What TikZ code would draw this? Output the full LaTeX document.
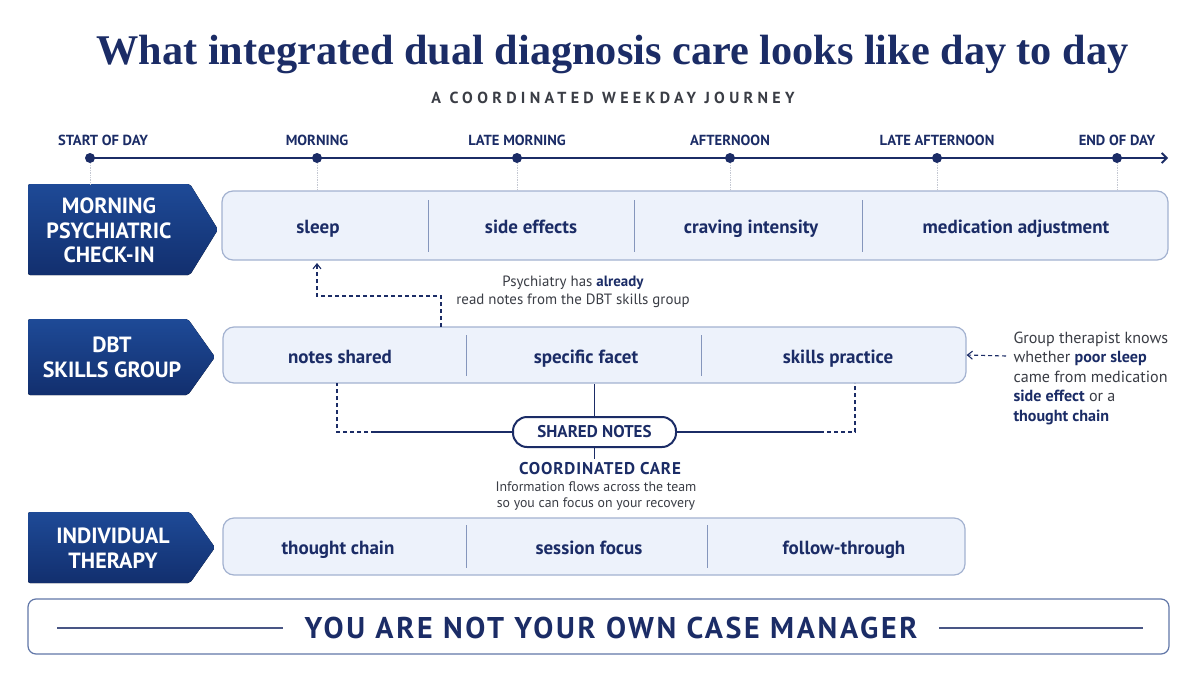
\documentclass[tikz,border=0pt]{standalone}
\usepackage{fontspec}
\setmainfont{PT Sans}
\newfontfamily\titlefont{Liberation Serif}
\usetikzlibrary{arrows.meta,calc}
\definecolor{navy}{HTML}{1B2C66}
\definecolor{bannerA}{HTML}{1E4A97}
\definecolor{bannerB}{HTML}{122F6E}
\definecolor{boxfill}{HTML}{EDF2FB}
\definecolor{boxline}{HTML}{A3B2D0}
\definecolor{divline}{HTML}{8596BC}
\definecolor{graytext}{HTML}{3A3D45}
\definecolor{dropline}{HTML}{C4C8D2}
\definecolor{bottomline}{HTML}{6177A8}
\newcommand\hl[1]{{\bfseries\color{navy}#1}}
\tikzset{
  bannershape/.style={top color=bannerA, bottom color=bannerB, draw=none, rounded corners=2},
  bannertext/.style={text=white, align=center, font=\bfseries\fontsize{22}{24.5}\selectfont},
  rowbox/.style={draw=boxline, fill=boxfill, line width=1.2, rounded corners=11, inner sep=0},
  boxlabel/.style={text=navy, text height=13, text depth=4, yshift=-2.5, font=\bfseries\fontsize{19}{22}\selectfont},
  divider/.style={draw=divline, line width=0.9},
  tlabel/.style={text=navy, text height=10, text depth=0, font=\bfseries\fontsize{14.6}{17}\selectfont},
  tdot/.style={circle, fill=navy, inner sep=0, minimum size=10},
  drop/.style={draw=dropline, line width=0.7, densely dotted},
  dasharrow/.style={draw=navy, line width=1.1, dash pattern=on 4pt off 3pt, -{Straight Barb[length=5pt,width=8pt]}},
  dashline/.style={draw=navy, line width=1.1, dash pattern=on 4pt off 3pt},
  solidline/.style={draw=navy, line width=1.5},
  note/.style={text=graytext, align=center, font=\fontsize{14.9}{18.5}\selectfont},
}
\begin{document}
\begin{tikzpicture}[x=1pt,y=-1pt]
\useasboundingbox[fill=white] (0,0) rectangle (1200,675);

% Title
\node[text=navy, font=\titlefont\bfseries\fontsize{42.3}{48}\selectfont] (title) at (612.5,54) {What integrated dual diagnosis care looks like day to day};
\node[text=graytext, font=\bfseries\fontsize{16}{19}\selectfont\addfontfeatures{LetterSpace=27}] (subtitle) at (613,98) {A COORDINATED WEEKDAY JOURNEY};

% Timeline
\node[tdot] (d0) at (90,158) {};
\node[tdot] (d1) at (317,158) {};
\node[tdot] (d2) at (517,158) {};
\node[tdot] (d3) at (730,158) {};
\node[tdot] (d4) at (937,158) {};
\node[tdot] (d5) at (1117,158) {};
\coordinate (tend) at (1168,158);
\draw[draw=navy, line width=1.8, -{Straight Barb[length=5pt,width=10pt]}] (d0.center) -- (tend);
\node[tlabel] (l0) at (103,140) {START OF DAY};
\node[tlabel] (l1) at (317,140) {MORNING};
\node[tlabel] (l2) at (517,140) {LATE MORNING};
\node[tlabel] (l3) at (730,140) {AFTERNOON};
\node[tlabel] (l4) at (937,140) {LATE AFTERNOON};
\node[tlabel] (l5) at (1117,140) {END OF DAY};

% Row 1
\fill[bannershape] (28,184) -- (190,184) -- (218,229.5) -- (190,275) -- (28,275) -- cycle;
\node[bannertext] (b1) at (109,230.5) {MORNING\\PSYCHIATRIC\\CHECK-IN};
\node[rowbox, minimum width=946, minimum height=69] (r1) at (695,225.5) {};
\draw[divider] (428,200) -- (428,252);
\draw[divider] (634,200) -- (634,252);
\draw[divider] (862,200) -- (862,252);
\node[boxlabel] (r1a) at (318,226) {sleep};
\node[boxlabel] (r1b) at (531,226) {side effects};
\node[boxlabel] (r1c) at (751,226) {craving intensity};
\node[boxlabel] (r1d) at (1016,226) {medication adjustment};

% Drops
\draw[drop] (d0.south) -- (90,184);
\draw[drop] (d1.south) -- (d1.south |- r1.north);
\draw[drop] (d2.south) -- (d2.south |- r1.north);
\draw[drop] (d3.south) -- (d3.south |- r1.north);
\draw[drop] (d4.south) -- (d4.south |- r1.north);
\draw[drop] (d5.south) -- (d5.south |- r1.north);

% Row 2
\fill[bannershape] (28,319) -- (188,319) -- (215,357) -- (188,395) -- (28,395) -- cycle;
\node[bannertext] (b2) at (112,357.5) {DBT\\SKILLS GROUP};
\node[rowbox, minimum width=743, minimum height=56] (r2) at (594.5,355) {};
\draw[divider] (466,335) -- (466,376);
\draw[divider] (701,335) -- (701,376);
\node[boxlabel] (r2a) at (340,356) {notes shared};
\node[boxlabel] (r2b) at (586,356) {specific facet};
\node[boxlabel] (r2c) at (838,356) {skills practice};

% Psychiatry note & arrow
\coordinate (pa0) at (441,327);
\coordinate (pa1) at (441,296);
\coordinate (pa2) at (317,296);
\coordinate (pa3) at (317,263);
\draw[dasharrow] (pa0) -- (pa1) -- (pa2) -- (pa3);
\node[note] (psy) at (573,292) {Psychiatry has \hl{already}\\read notes from the DBT skills group};

% Group therapist note
\node[text=graytext, align=left, anchor=north west, font=\fontsize{16.1}{19.6}\selectfont] (gt) at (1010,328) {Group therapist knows\\whether \hl{poor sleep}\\came from medication\\\hl{side effect} or a\\\hl{thought chain}};
\coordinate (ga0) at (1006,356);
\draw[dasharrow] (ga0) -- (r2.east);

% Shared notes
\node[draw=navy, line width=2, fill=white, rounded corners=14, minimum width=163, minimum height=30, text=navy, font=\bfseries\fontsize{17}{20}\selectfont] (sn) at (594.5,432) {SHARED NOTES};
\draw[solidline] (sn.north) -- (sn.north |- r2.south);
\coordinate (sl1) at (375,432);
\coordinate (sl2) at (337,432);
\coordinate (sl3) at (337,383);
\coordinate (sr1) at (820,432);
\coordinate (sr2) at (855,432);
\coordinate (sr3) at (855,383);
\draw[solidline] (sn.west) -- (sl1);
\draw[dashline] (sl1) -- (sl2) -- (sl3);
\draw[solidline] (sn.east) -- (sr1);
\draw[dashline] (sr1) -- (sr2) -- (sr3);
\node[text=navy, font=\bfseries\fontsize{17}{20}\selectfont\addfontfeatures{LetterSpace=5}] (cc) at (600,469) {COORDINATED CARE};
\draw[solidline] (sn.south) -- (cc.north -| sn.south);
\node[text=graytext, align=center, font=\fontsize{13.8}{15.5}\selectfont] (ccn) at (596,496) {Information flows across the team\\so you can focus on your recovery};

% Row 3
\fill[bannershape] (28,512) -- (190,512) -- (215,547.5) -- (190,583) -- (28,583) -- cycle;
\node[bannertext] (b3) at (113,548) {INDIVIDUAL\\THERAPY};
\node[rowbox, minimum width=742, minimum height=57] (r3) at (594,546.5) {};
\draw[divider] (466,525) -- (466,568);
\draw[divider] (707,525) -- (707,568);
\node[boxlabel] (r3a) at (338,547) {thought chain};
\node[boxlabel] (r3b) at (589,547) {session focus};
\node[boxlabel] (r3c) at (844,547) {follow-through};

% Bottom banner
\node[draw=bottomline, line width=1.2, fill=white, rounded corners=8, minimum width=1141, minimum height=55, inner sep=0] (bb) at (598.5,626.5) {};
\node[text=navy, font=\bfseries\fontsize{30}{34}\selectfont\addfontfeatures{LetterSpace=9}] (bt) at (611,628) {YOU ARE NOT YOUR OWN CASE MANAGER};
\coordinate (bl0) at (57,628);
\coordinate (br0) at (1143,628);
\draw[draw=navy!80, line width=1.2] (bl0) -- ($(bt.west)+(-18,0)$);
\draw[draw=navy!80, line width=1.2] ($(bt.east)+(18,0)$) -- (br0);
\end{tikzpicture}
\end{document}
